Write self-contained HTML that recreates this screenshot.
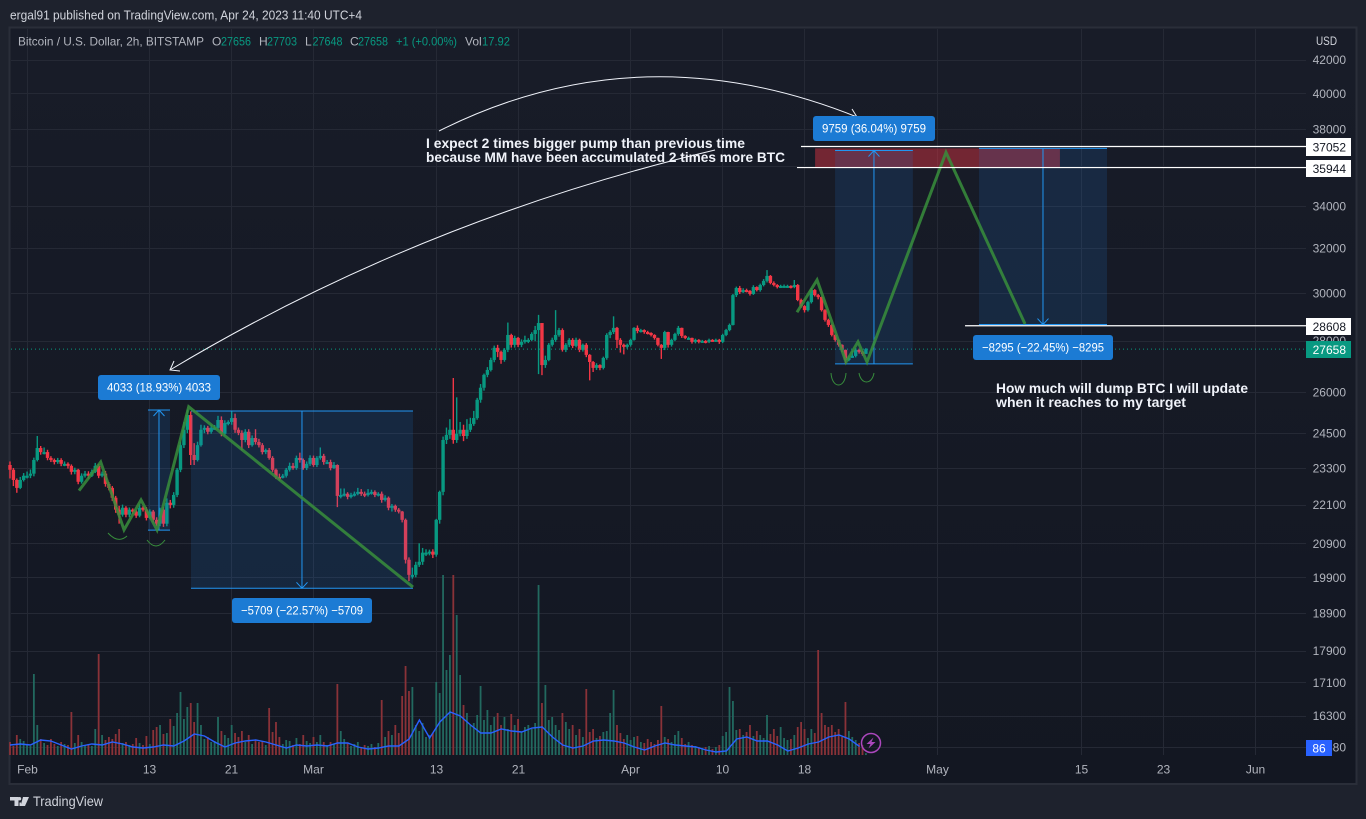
<!DOCTYPE html>
<html lang="en">
<head>
<meta charset="utf-8">
<title>BTC/USD chart</title>
<style>
html,body{margin:0;padding:0;background:#1e222d;width:1366px;height:819px;overflow:hidden}
svg{display:block;font-family:"Liberation Sans",sans-serif}
</style>
</head>
<body>
<svg id="chart" xmlns="http://www.w3.org/2000/svg" width="1366" height="819" viewBox="0 0 1366 819">
  <defs>
    <linearGradient id="paneFade" x1="0" y1="0" x2="0" y2="1">
      <stop offset="0" stop-color="#181c28"/>
      <stop offset="1" stop-color="#131722"/>
    </linearGradient>
  </defs>
  <rect x="0" y="0" width="1366" height="819" fill="#1e222d"/>
  <text x="10" y="19.5" font-size="13" fill="#d1d4dc" textLength="352" lengthAdjust="spacingAndGlyphs">ergal91 published on TradingView.com, Apr 24, 2023 11:40 UTC+4</text>
  <rect x="9.5" y="27.5" width="1347" height="756.5" fill="url(#paneFade)" stroke="#2a2e39" stroke-width="2"/>
  <g id="grid"></g>
  <g id="volumes"></g>
  <g id="volma"></g>
  <g id="candles"></g>
  <g id="lastline"></g>
  <g id="overlays"></g>

  <path d="M715,150 Q420,220 170,370 M180,371 L170,370 L174,361" fill="none" stroke="#f0f3fa" stroke-width="1"/>
  <path d="M439,131 Q640,30 857,117 M852,109 L857,117 L847,119" fill="none" stroke="#f0f3fa" stroke-width="1"/>

  <path d="M108,533 Q118,544 127,536" fill="none" stroke="#388e3c" stroke-width="1"/>
  <path d="M147,540 Q156,552 165,540" fill="none" stroke="#388e3c" stroke-width="1"/>
  <path d="M831,373 C832,389 845,389 846,373" fill="none" stroke="#388e3c" stroke-width="1"/>
  <path d="M859,373 C861,385 872,385 874,373" fill="none" stroke="#388e3c" stroke-width="1"/>

  <g>
    <rect x="98" y="375" width="122" height="25" rx="3" fill="#1c7bd4"/>
    <text x="107" y="391.5" font-size="12" fill="#fff" textLength="104" lengthAdjust="spacingAndGlyphs">4033 (18.93%) 4033</text>
  </g>
  <g>
    <rect x="232" y="598" width="140" height="25" rx="3" fill="#1c7bd4"/>
    <text x="241" y="614.5" font-size="12" fill="#fff" textLength="122" lengthAdjust="spacingAndGlyphs">−5709 (−22.57%) −5709</text>
  </g>
  <g>
    <rect x="813" y="116" width="122" height="25" rx="3" fill="#1c7bd4"/>
    <text x="822" y="132.5" font-size="12" fill="#fff" textLength="104" lengthAdjust="spacingAndGlyphs">9759 (36.04%) 9759</text>
  </g>
  <g>
    <rect x="973" y="335" width="140" height="25" rx="3" fill="#1c7bd4"/>
    <text x="982" y="351.5" font-size="12" fill="#fff" textLength="122" lengthAdjust="spacingAndGlyphs">−8295 (−22.45%) −8295</text>
  </g>

  <text x="426" y="148" font-size="14" font-weight="700" fill="#f0f3fa" textLength="319" lengthAdjust="spacingAndGlyphs">I expect 2 times bigger pump than previous time</text>
  <text x="426" y="162" font-size="14" font-weight="700" fill="#f0f3fa" textLength="359" lengthAdjust="spacingAndGlyphs">because MM have been accumulated 2 times more BTC</text>
  <text x="996" y="393" font-size="14" font-weight="700" fill="#f0f3fa" textLength="252" lengthAdjust="spacingAndGlyphs">How much will dump BTC I will update</text>
  <text x="996" y="407" font-size="14" font-weight="700" fill="#f0f3fa" textLength="190" lengthAdjust="spacingAndGlyphs">when it reaches to my target</text>

  <g font-size="12">
    <text x="18" y="45.5" fill="#b2b5be" textLength="186" lengthAdjust="spacingAndGlyphs">Bitcoin / U.S. Dollar, 2h, BITSTAMP</text>
    <text x="212" y="45.5" fill="#b2b5be">O</text>
    <text x="221" y="45.5" fill="#089981" textLength="30" lengthAdjust="spacingAndGlyphs">27656</text>
    <text x="259" y="45.5" fill="#b2b5be">H</text>
    <text x="267" y="45.5" fill="#089981" textLength="30" lengthAdjust="spacingAndGlyphs">27703</text>
    <text x="305" y="45.5" fill="#b2b5be">L</text>
    <text x="312.5" y="45.5" fill="#089981" textLength="30" lengthAdjust="spacingAndGlyphs">27648</text>
    <text x="350" y="45.5" fill="#b2b5be">C</text>
    <text x="358" y="45.5" fill="#089981" textLength="30" lengthAdjust="spacingAndGlyphs">27658</text>
    <text x="396" y="45.5" fill="#089981" textLength="61" lengthAdjust="spacingAndGlyphs">+1 (+0.00%)</text>
    <text x="465" y="45.5" fill="#b2b5be">Vol</text>
    <text x="482" y="45.5" fill="#089981" textLength="28" lengthAdjust="spacingAndGlyphs">17.92</text>
  </g>

  <text x="1316" y="45" font-size="12" fill="#d1d4dc" textLength="21" lengthAdjust="spacingAndGlyphs">USD</text>
  <g id="priceaxis"></g>
  <g id="timeaxis"></g>

  <g>
    <rect id="tag1" x="1306" y="138" width="45" height="18" fill="#fff"/>
    <text x="1346" y="151.5" font-size="12" text-anchor="end" fill="#131722">37052</text>
  </g>
  <g>
    <rect x="1306" y="160" width="45" height="17" fill="#fff"/>
    <text x="1346" y="173" font-size="12" text-anchor="end" fill="#131722">35944</text>
  </g>
  <g>
    <rect x="1306" y="318" width="45" height="17" fill="#fff"/>
    <text x="1346" y="331" font-size="12" text-anchor="end" fill="#131722">28608</text>
  </g>
  <g>
    <rect x="1306" y="341" width="45" height="17" fill="#089981"/>
    <text x="1346" y="354" font-size="12" text-anchor="end" fill="#fff">27658</text>
  </g>
  <g>
    <rect x="1306" y="740" width="26" height="16" fill="#2962ff"/>
    <text x="1319" y="752.5" font-size="12" text-anchor="middle" fill="#fff">86</text>
  </g>

  <g>
    <circle cx="871" cy="743" r="9.5" fill="#131722" fill-opacity="0.4" stroke="#ab47bc" stroke-width="1.5"/>
    <path d="M873.5,737.5 L866.5,744 L870.5,744 L868.5,748.5 L875.5,742 L871.5,742 Z" fill="#ab47bc"/>
  </g>

  <g>
    <path d="M10,797 H18.5 V806 H14.5 V800.5 H10 Z M19.5,802.5 H21 V806 H19.5 Z M23,797 H29 L25,806 H20.5 Z M19.5,797 A1.7,1.7 0 1 1 19.5,800.4 A1.7,1.7 0 1 1 19.5,797 Z" fill="#d1d4dc"/>
    <text x="33" y="806" font-size="14" fill="#d1d4dc" textLength="70" lengthAdjust="spacingAndGlyphs">TradingView</text>
  </g>
</svg>

<script>
// ---- candle series (8-hour sampling) ----
const firstOpen = 23400;
const closes = [
23240,22900,22640,22900,23040,23040,23110,23570,23980,23840,
23840,23640,23570,23500,23570,23440,23440,23370,23170,23240,
22840,23040,23110,23040,23170,23370,23040,23110,22770,22640,
22320,21940,21780,22000,21780,21940,21880,21750,22000,21940,
21680,21880,21620,21500,21940,21500,22160,22090,22410,23240,
24080,24620,25150,23740,23570,24080,24620,24690,24550,24690,
24690,24970,24480,24860,24900,25040,24620,24510,24260,24550,
24080,24330,24190,24080,23840,23910,23640,23240,23000,22970,
23040,23240,23370,23300,23640,23570,23300,23440,23640,23400,
23640,23710,23500,23500,23300,23400,22380,22410,22450,22350,
22410,22450,22510,22450,22410,22480,22510,22410,22450,22250,
22320,22000,22060,21940,21880,21620,20410,19970,19970,20260,
20350,20620,20620,20650,20560,21620,22510,24260,24440,24620,
24260,24480,24620,24400,24620,24830,25040,25710,26160,26650,
26840,27230,27710,27550,27230,27630,28230,27830,28110,27830,
27950,28030,28030,28270,28430,28720,27030,27230,27830,28030,
28230,28430,27630,27830,28030,27790,28030,27630,27830,27430,
27150,26920,27030,26920,27310,28230,28350,28520,28030,27830,
27750,27830,28030,28520,28390,28430,28350,28310,28230,28110,
27830,27710,28350,27830,28030,28270,28520,28190,28110,28110,
27950,28030,27950,27990,27950,28030,27990,28030,27950,28230,
28430,28640,29900,30210,30030,30120,30080,29950,30250,30120,
30340,30520,30740,30430,30340,30250,30300,30300,30300,30250,
30340,29690,29430,29260,29600,30120,29900,29820,29260,28850,
28640,28230,28030,27830,27630,27230,27310,27390,27630,27550,
27470,27658];
const highs = [
23520,23300,22950,23000,23130,23180,23250,23650,24400,24050,
24000,23920,23700,23620,23640,23630,23520,23490,23420,23310,
23270,23120,23200,23190,23250,23470,23430,23180,23200,22830,
22700,22380,22060,22100,22050,22010,21980,21930,22110,22050,
22020,21950,21930,21700,22000,22020,22300,22250,22500,23300,
24200,24900,25350,25280,24150,24200,24800,24780,24760,24800,
24790,25120,25100,24960,24960,25300,25200,24700,24600,24640,
24640,24420,24640,24300,24150,23960,23980,23700,23280,23110,
23100,23300,23480,23470,23720,23820,23620,23520,23730,23720,
23700,24000,23780,23570,23580,23500,23420,22620,22620,22500,
22480,22520,22640,22600,22520,22600,22580,22560,22500,22520,
22400,22360,22120,22100,21990,21900,21660,20480,20180,20350,
20900,20760,20720,20710,20720,21650,22550,24380,24700,25000,
26530,25800,24900,24800,25000,25050,25300,25780,26300,26700,
26950,27320,27800,27830,27600,27700,28740,28280,28200,28150,
28050,28200,28100,28340,28600,29060,28720,27400,27900,28120,
29260,28520,28500,27900,28100,28100,28120,28080,27880,27900,
27460,27190,27100,27060,27360,28300,28420,29000,28560,28100,
27880,27880,28080,28550,28620,28480,28460,28400,28340,28260,
28120,27860,28400,28360,28080,28320,28600,28530,28220,28160,
28120,28080,28060,28030,28020,28080,28060,28080,28070,28280,
28480,28700,29950,30270,30300,30200,30180,30120,30330,30280,
30400,30600,31000,30780,30500,30380,30350,30360,30350,30330,
30560,30380,29750,29470,29660,30200,30160,29950,29840,29300,
28900,28680,28260,28050,27850,27640,27400,27600,27700,27680,
27600,27703];
const lows = [
22950,22700,22480,22600,22850,22950,22960,23020,23520,23750,
23760,23560,23500,23420,23440,23360,23360,23280,23080,23090,
22760,22780,22980,22950,23000,23130,22960,22990,22680,22560,
22220,21840,21500,21720,21700,21700,21800,21680,21700,21880,
21600,21640,21540,21430,21420,21400,21420,21980,22000,22340,
23160,23980,24500,23400,23400,23520,24030,24500,24460,24480,
24620,24620,24390,24410,24780,24800,24510,24430,23900,24180,
23980,24030,24100,24000,23760,23770,23580,23170,22930,22880,
22950,22980,23180,23240,23240,23480,23240,23230,23370,23340,
23330,23580,23410,23430,23220,23270,22020,22300,22360,22270,
22300,22360,22400,22380,22340,22360,22420,22340,22360,22160,
22200,21920,21880,21870,21820,21540,20300,19790,19860,19900,
20200,20260,20520,20540,20460,20500,21500,22400,24120,24300,
24130,24160,24390,24220,24300,24540,24760,24980,25600,26050,
26560,26780,27140,27340,27080,27160,27540,27720,27720,27740,
27740,27880,27900,27980,27980,26680,26640,26920,27180,27760,
27950,28160,27560,27540,27740,27700,27730,27540,27560,27340,
26440,26760,26840,26830,26860,27240,28100,28270,27700,27520,
27450,27680,27760,28000,28300,28330,28280,28250,28170,28040,
27770,27270,27620,27720,27760,27980,28200,28110,28060,28040,
27880,27890,27890,27920,27890,27900,27960,27950,27870,27900,
28180,28380,28620,29820,29950,29990,30020,29880,29910,30060,
30050,30280,30450,30370,30280,30190,30210,30240,30220,30190,
30200,29640,29360,29160,29200,29540,29840,29720,29200,28780,
28560,28170,27960,27760,27540,27080,27180,27320,27330,27480,
27400,27470];
const volumes = [
130,90,200,160,140,110,90,810,300,160,
120,100,160,110,90,130,110,100,430,120,
200,130,100,110,90,260,1010,200,150,180,
160,210,260,120,130,100,110,170,120,100,
190,110,250,280,300,210,220,360,290,420,
630,360,480,520,330,520,300,160,180,130,
140,380,240,200,170,300,220,180,240,130,
200,110,150,130,140,100,470,230,330,180,
110,150,140,100,170,110,200,140,120,180,
130,200,130,100,130,110,710,240,160,120,
90,110,130,80,100,90,110,80,120,550,
180,240,200,300,220,590,890,640,680,300,
240,320,180,200,220,730,620,1800,850,1000,
1800,1400,800,500,420,300,320,400,690,350,
450,300,380,420,300,380,260,410,300,360,
230,280,300,260,320,1700,520,700,350,380,
300,250,420,330,260,300,200,260,180,660,
230,260,170,190,230,240,420,650,300,220,
160,200,150,180,190,130,120,160,130,110,
150,490,180,160,130,200,240,170,110,130,
100,90,80,70,80,90,60,80,100,190,
230,680,540,250,260,200,230,300,190,240,
200,170,400,210,260,190,280,170,150,160,
200,280,330,260,170,260,220,1050,420,300,
280,300,230,260,180,530,240,180,150,120,
100,18];
// Daily samples of the volume moving average
const volumeMA = [
100,110,100,150,140,100,60,90,110,100,
130,110,80,70,80,100,90,140,210,190,
130,80,120,140,150,130,100,70,100,90,
100,90,120,120,80,60,70,90,90,160,
350,170,330,430,390,300,220,220,260,240,
230,270,280,180,100,70,90,140,150,140,
120,80,50,90,120,100,90,80,50,30,
40,160,180,140,140,100,40,70,110,130,
180,200,160,86];
// Axis ticks
const priceTicks = [42000,40000,38000,36000,34000,32000,30000,28000,26000,24500,23300,22100,20900,19900,18900,17900,17100,16300,15580];
const timeTickDays = [0,12,20,28,40,48,59,68,76,89,103,111,120];
const timeTickLabels = ['Feb','13','21','Mar','13','21','Apr','10','18','May','15','23','Jun'];
const lastPrice = 27658;
// Hand-drawn zig-zags (day since Feb 1, price)
const zigzagOneDays = [5.13,7.25,9.53,11.19,12.75,15.85,37.76];
const zigzagOnePrices = [22550,23500,21310,22250,21310,25450,19620];
const zigzagTwoDays = [75.28,77.24,80.07,81.24,82.12,89.84,97.56];
const zigzagTwoPrices = [29170,30560,27150,27950,27150,36740,28680];
// Price-range measure tools
const rangeStartDays = [11.87,16.07,79.0,93.06];
const rangeEndDays = [14.02,37.76,86.6,105.57];
const rangeFromPrices = [21300,25295,27078,36953];
const rangeToPrices = [25333,19586,36837,28658];
// Horizontal rays: price and the day they begin at
const rayPrices = [37052,35944,28608];
const rayStartDays = [75.67,75.28,91.7];
// Target zone
const zonePrices = [36953,35944];
const zoneDays = [77.05,100.97];

// ---- axis functions ----
const NS = 'http://www.w3.org/2000/svg';
const plotRight = 1306, volumeBase = 755, firstCandleX = 10, candleStep = 3.41;
function yOf(price){ return 129 + 693 * Math.log(38000 / price); }
function xOfDay(day){ return 26.5 + 10.235 * day; }
function xOfIndex(i){ return firstCandleX + candleStep * i; }
function xOfVolumeMA(j){ return firstCandleX + 10.235 * j; }
function yOfVolume(v){ return volumeBase - v * 0.1; }
function el(tag, attrs, parent){
  const node = document.createElementNS(NS, tag);
  for (const k in attrs) node.setAttribute(k, attrs[k]);
  parent.appendChild(node);
  return node;
}

// ---- grid + axis labels ----
const gridG = document.getElementById('grid');
const priceAxisG = document.getElementById('priceaxis');
const timeAxisG = document.getElementById('timeaxis');
priceTicks.forEach(function(p){
  const y = Math.round(yOf(p)) + 0.5;
  const line = el('line', {x1:11, x2:plotRight, y1:y, y2:y, stroke:'#252935', 'stroke-width':1}, gridG);
  
  
  const label = el('text', {x:1346, y:yOf(p) + 4.5, 'font-size':12, 'text-anchor':'end', fill:'#b2b5be'}, priceAxisG);
  
  
  label.textContent = String(p);
});
timeTickDays.forEach(function(d, i){
  const x = Math.round(xOfDay(d)) + 0.5;
  const line = el('line', {x1:x, x2:x, y1:29, y2:volumeBase, stroke:'#252935', 'stroke-width':1}, gridG);
  
  
  const label = el('text', {x:x, y:773.5, 'font-size':12, 'text-anchor':'middle', fill:'#b2b5be'}, timeAxisG);
  
  
  label.textContent = timeTickLabels[i];
});

// ---- volume ----
const volG = document.getElementById('volumes');
volumes.forEach(function(v, i){
  const open = i === 0 ? firstOpen : closes[i - 1];
  const up = closes[i] >= open;
  const top = yOfVolume(v);
  const bar = el('rect', {x:xOfIndex(i) - 0.9, y:top, width:1.8, height:volumeBase - top, fill: up ? '#22695f' : '#8a3238'}, volG);
  
  
});
const maLine = el('polyline', {
  points: volumeMA.map(function(v, j){ return xOfVolumeMA(j) + ',' + yOfVolume(v); }).join(' '),
  fill:'none', stroke:'#2962ff', 'stroke-width':1.4
}, document.getElementById('volma'));



// ---- candles ----
const candleG = document.getElementById('candles');
closes.forEach(function(c, i){
  const o = i === 0 ? firstOpen : closes[i - 1];
  const color = c >= o ? '#089981' : '#f23645';
  const x = xOfIndex(i);
  const wick = el('line', {x1:x, x2:x, y1:yOf(highs[i]), y2:yOf(lows[i]), stroke:color, 'stroke-width':1.4}, candleG);
  
  
  const top = Math.min(yOf(o), yOf(c));
  const h = Math.max(2, Math.abs(yOf(o) - yOf(c)));
  const body = el('rect', {x:x - 1.7, y:top, width:3.4, height:h, fill:color}, candleG);
  
  
});

// ---- last price line ----
const lastLine = el('line', {x1:11, x2:plotRight, y1:yOf(lastPrice), y2:yOf(lastPrice), stroke:'#089981', 'stroke-width':1, 'stroke-dasharray':'1 3'}, document.getElementById('lastline'));



// ---- drawings ----
const ov = document.getElementById('overlays');
const zone = el('rect', {
  x:xOfDay(zoneDays[0]), y:yOf(zonePrices[0]),
  width:xOfDay(zoneDays[1]) - xOfDay(zoneDays[0]),
  height:yOf(zonePrices[1]) - yOf(zonePrices[0]),
  fill:'#f23645', 'fill-opacity':0.42
}, ov);



rangeStartDays.forEach(function(startDay, i){
  const x1 = xOfDay(startDay), x2 = xOfDay(rangeEndDays[i]);
  const yFrom = yOf(rangeFromPrices[i]), yTo = yOf(rangeToPrices[i]);
  const top = Math.min(yFrom, yTo), bottom = Math.max(yFrom, yTo);
  const mid = (x1 + x2) / 2;
  const box = el('rect', {x:x1, y:top, width:x2 - x1, height:bottom - top, fill:'#2480e0', 'fill-opacity':0.15}, ov);
  
  
  const edges = el('path', {d:'M' + x1 + ',' + top + ' H' + x2 + ' M' + x1 + ',' + bottom + ' H' + x2, stroke:'#2196f3', 'stroke-width':1, fill:'none'}, ov);
  
  
  const dir = yTo < yFrom ? 1 : -1;
  const arrow = el('path', {d:'M' + mid + ',' + yFrom + ' V' + yTo + ' M' + (mid - 5.5) + ',' + (yTo + dir * 6) + ' L' + mid + ',' + yTo + ' L' + (mid + 5.5) + ',' + (yTo + dir * 6), stroke:'#2196f3', 'stroke-width':1, fill:'none'}, ov);
  
  
});

function drawZigzag(days, prices, name){
  const path = el('polyline', {
    points: days.map(function(d, i){ return xOfDay(d) + ',' + yOf(prices[i]); }).join(' '),
    fill:'none', stroke:'#388e3c', 'stroke-opacity':0.85, 'stroke-width':3, 'stroke-linejoin':'miter'
  }, ov);
  
  
}
drawZigzag(zigzagOneDays, zigzagOnePrices, 'zigzag-path-past');
drawZigzag(zigzagTwoDays, zigzagTwoPrices, 'zigzag-path-forecast');

rayPrices.forEach(function(p, i){
  const y = yOf(p);
  const ray = el('line', {x1:xOfDay(rayStartDays[i]), x2:plotRight, y1:y, y2:y, stroke:'#ffffff', 'stroke-width':1.2}, ov);
  
  
});
</script>
</body>
</html>
